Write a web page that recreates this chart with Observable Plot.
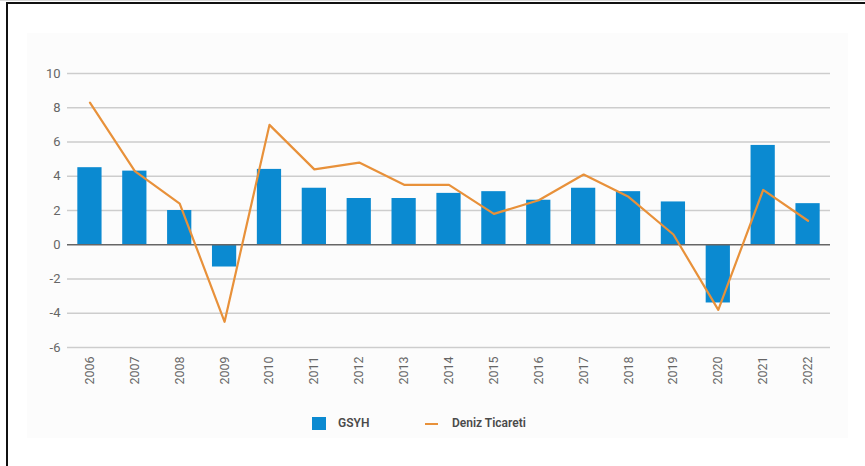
<!DOCTYPE html>
<html>
<head>
<meta charset="utf-8">
<script src="https://cdn.jsdelivr.net/npm/d3@7"></script>
<script src="https://cdn.jsdelivr.net/npm/@observablehq/plot@0.6"></script>
<style>
  html, body { margin: 0; padding: 0; background: #fff; }
  #frame { position: relative; width: 865px; height: 466px; overflow: hidden; font-family: Roboto, "DejaVu Sans", sans-serif; }
  #panel { position: absolute; left: 27px; top: 33px; width: 821px; height: 405px; background: #fcfcfc; }
  #topgray { position: absolute; left: 0; top: 0; width: 865px; height: 1px; background: #d8d8d8; }
  #topline { position: absolute; left: 6px; top: 2px; right: 0; height: 2px; background: #111; }
  #leftline { position: absolute; left: 6px; top: 2px; width: 2px; bottom: 0; background: #111; }
  #chart { position: absolute; left: 0; top: 0; }
  #legend { position: absolute; top: 415px; left: 0; width: 865px; height: 16px; font-size: 12px; font-weight: 600; color: #4a4a4a; }
  .sw { position: absolute; top: 2px; width: 14px; height: 13px; }
  .dash { position: absolute; top: 8px; width: 13px; height: 2px; }
  .lt { position: absolute; top: 0; line-height: 16px; }
</style>
</head>
<body>
<div id="frame">
  <div id="panel"></div>
  <div id="chart"></div>
  <div id="topgray"></div>
  <div id="topline"></div>
  <div id="leftline"></div>
  <div id="legend"></div>
</div>
<script>
const years = [2006, 2007, 2008, 2009, 2010, 2011, 2012, 2013, 2014, 2015, 2016, 2017, 2018, 2019, 2020, 2021, 2022];
const gsyh  = [4.5, 4.3, 2.0, -1.3, 4.4, 3.3, 2.7, 2.7, 3.0, 3.1, 2.6, 3.3, 3.1, 2.5, -3.4, 5.8, 2.4];
const deniz = [8.3, 4.3, 2.4, -4.5, 7.0, 4.4, 4.8, 3.5, 3.5, 1.8, 2.6, 4.1, 2.8, 0.6, -3.8, 3.2, 1.4];
const yTicks = [-6, -4, -2, 0, 2, 4, 6, 8, 10];
const seriesNames = ["GSYH", "Deniz Ticareti"];
const seriesColors = ["#0b8ad1", "#e8913a"];

const data = years.map((y, i) => ({year: String(y), gsyh: gsyh[i], deniz: deniz[i]}));

const chart = Plot.plot({
  width: 865,
  height: 400,
  marginTop: 73,
  marginBottom: 53,
  marginLeft: 67,
  marginRight: 35,
  style: {background: "transparent", fontFamily: "Roboto, 'DejaVu Sans', sans-serif"},
  x: {type: "band", domain: years.map(String), paddingInner: 0.46, paddingOuter: 0.23, round: false},
  y: {domain: [-6, 10]},
  marks: [
    Plot.gridY(yTicks.filter(d => d !== 0), {stroke: "#cdcdcd", strokeOpacity: 1, strokeWidth: 1.4}),
    Plot.barY(data, {x: "year", y: "gsyh", fill: seriesColors[0]}),
    Plot.ruleY([0], {stroke: "#666", strokeWidth: 1.6}),
    Plot.lineY(data, {x: "year", y: "deniz", stroke: seriesColors[1], strokeWidth: 2.2}),
    Plot.axisY(yTicks, {tickSize: 0, tickPadding: 7, fontSize: 13, fill: "#666", label: null, tickFormat: d => String(d)}),
    Plot.axisX({tickRotate: -90, tickSize: 0, tickPadding: 9, fontSize: 12.5, fill: "#666", label: null})
  ]
});
document.getElementById("chart").appendChild(chart);

const legend = document.getElementById("legend");
const items = [
  {kind: "sw", x: 312, tx: 338},
  {kind: "dash", x: 425, tx: 452}
];
items.forEach((it, i) => {
  const m = document.createElement("div");
  m.className = it.kind;
  m.style.left = it.x + "px";
  m.style.background = seriesColors[i];
  legend.appendChild(m);
  const t = document.createElement("div");
  t.className = "lt";
  t.style.left = it.tx + "px";
  t.textContent = seriesNames[i];
  legend.appendChild(t);
});
</script>
</body>
</html>
